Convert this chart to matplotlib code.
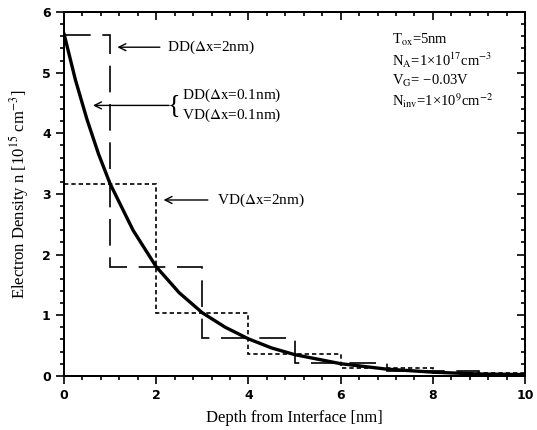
import numpy as np
import matplotlib
matplotlib.use("Agg")
import matplotlib.pyplot as plt
from matplotlib.ticker import MultipleLocator, NullFormatter

plt.rcParams['font.family'] = ['Liberation Serif', 'DejaVu Serif']
plt.rcParams['mathtext.fontset'] = 'stix'

# exact solution (dx = 0.1 nm, DD and VD coincide)
depth = [0, 0.25, 0.5, 0.75, 1, 1.5, 2, 2.5, 3, 3.5, 4, 4.5, 5, 6, 7, 8, 9, 10]
density = [5.65, 4.88, 4.23, 3.66, 3.17, 2.40, 1.80, 1.37, 1.04, 0.80, 0.61,
           0.46, 0.35, 0.20, 0.11, 0.06, 0.03, 0.02]

# DD, dx = 2 nm (cells centred on the nodes)
dd_edges = [0, 1, 3, 5, 7, 9, 10]
dd_vals = [5.62, 1.80, 0.62, 0.21, 0.08, 0.02]

# VD, dx = 2 nm (cells between the nodes)
vd_edges = [0, 2, 4, 6, 8, 10]
vd_vals = [3.17, 1.04, 0.36, 0.13, 0.04]

fig = plt.figure(figsize=(5.37, 4.30), dpi=100)
ax = fig.add_axes([0.119, 0.126, 0.859, 0.846])

ax.plot(depth, density, color='black', lw=2.4, solid_capstyle='round')
ax.stairs(dd_vals, dd_edges, baseline=None, color='black', lw=1.2,
          linestyle=(0, (16, 7)))
ax.stairs(vd_vals, vd_edges, baseline=None, color='black', lw=1.2,
          linestyle=(0, (2.6, 1.8)))

ax.set_xlim(0, 10)
ax.set_ylim(0, 6)
ax.xaxis.set_major_locator(MultipleLocator(2))
ax.xaxis.set_minor_locator(MultipleLocator(0.4))
ax.yaxis.set_major_locator(MultipleLocator(1))
ax.yaxis.set_minor_locator(MultipleLocator(0.2))
ax.tick_params(which='both', direction='out', top=False, right=False, width=1.2)
ax.tick_params(which='major', length=6, labelsize=9)
ax.tick_params(which='minor', length=3)
for lab in ax.get_xticklabels() + ax.get_yticklabels():
    lab.set_fontfamily('DejaVu Sans')
    lab.set_fontweight('bold')

# inward ticks on top and right
twx = ax.twiny()
twx.set_xlim(ax.get_xlim())
twx.xaxis.set_major_locator(MultipleLocator(2))
twx.xaxis.set_minor_locator(MultipleLocator(0.4))
twx.xaxis.set_major_formatter(NullFormatter())
twx.tick_params(which='both', direction='in', width=1.2)
twx.tick_params(which='major', length=6)
twx.tick_params(which='minor', length=3)
twy = ax.twinx()
twy.set_ylim(ax.get_ylim())
twy.yaxis.set_major_locator(MultipleLocator(1))
twy.yaxis.set_minor_locator(MultipleLocator(0.2))
twy.yaxis.set_major_formatter(NullFormatter())
twy.tick_params(which='both', direction='in', width=1.2)
twy.tick_params(which='major', length=6)
twy.tick_params(which='minor', length=3)
for a in (ax, twx, twy):
    for sp in a.spines.values():
        sp.set_linewidth(1.4)

ax.set_xlabel('Depth from Interface [nm]', fontsize=12, labelpad=6)
ax.set_ylabel('Electron Density n [10$^{15}$ cm$^{-3}$]', fontsize=12, labelpad=8)

fs = 11
arrow = dict(arrowstyle='->,head_length=0.5,head_width=0.25', color='black',
             lw=1.0, shrinkA=0, shrinkB=0)
ax.annotate('', xy=(1.16, 5.42), xytext=(2.08, 5.42), arrowprops=arrow)
ax.text(2.24, 5.42, 'DD($\\mathrm{\\Delta x}$=2nm)', fontsize=fs, va='center')

ax.annotate('', xy=(0.63, 4.46), xytext=(2.28, 4.46), arrowprops=arrow)
ax.text(2.24, 4.46, '{', fontsize=19, va='center', ha='left')
ax.text(2.56, 4.63, 'DD($\\mathrm{\\Delta x}$=0.1nm)', fontsize=fs, va='center')
ax.text(2.56, 4.29, 'VD($\\mathrm{\\Delta x}$=0.1nm)', fontsize=fs, va='center')

ax.annotate('', xy=(2.16, 2.90), xytext=(3.12, 2.90), arrowprops=arrow)
ax.text(3.32, 2.90, 'VD($\\mathrm{\\Delta x}$=2nm)', fontsize=fs, va='center')

params = ('T$_{\\mathrm{ox}}$=5nm\n'
          'N$_{\\mathrm{A}}$=1\u00d710$^{17}$cm$^{-3}$\n'
          'V$_{\\mathrm{G}}$= \u22120.03V\n'
          'N$_{\\mathrm{inv}}$=1\u00d710$^{9}$cm$^{-2}$')
ax.text(7.12, 5.68, params, fontsize=10.5, va='top', ha='left', linespacing=1.2)

fig.savefig('out.png', dpi=100)
